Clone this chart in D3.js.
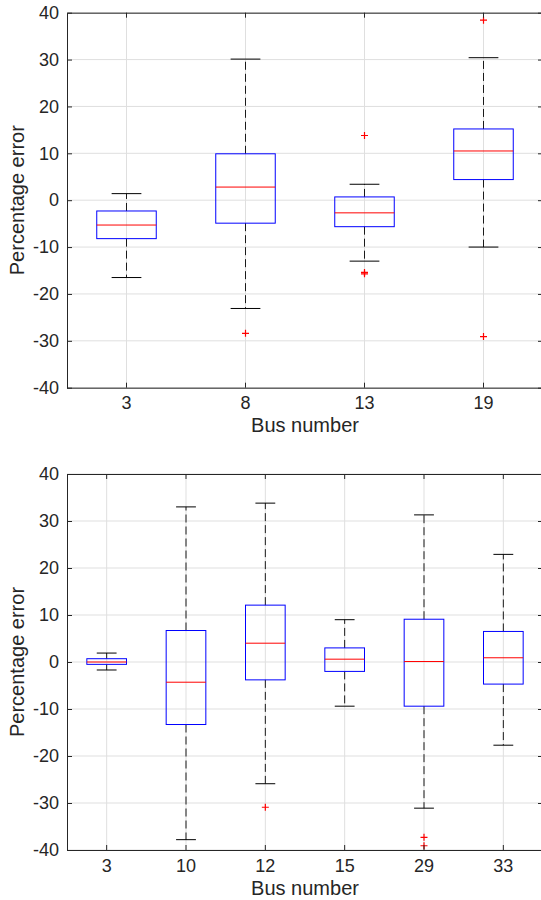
<!DOCTYPE html>
<html>
<head>
<meta charset="utf-8">
<script src="https://cdn.jsdelivr.net/npm/d3@7"></script>
<style>
  html, body { margin: 0; padding: 0; background: #ffffff; }
  svg { display: block; }
  text { font-family: "Liberation Sans", Arial, Helvetica, sans-serif; fill: #262626; }
</style>
</head>
<body>
<svg id="chart" width="541" height="900"></svg>
<script>
// ---------- Data (top panel) ----------
const busTop = ["3", "8", "13", "19"];
const loTop  = [-16.5, -23.1, -13.0, -10.0];
const q1Top  = [-8.2, -4.9, -5.65, 4.4];
const medTop = [-5.3, 2.8, -2.7, 10.5];
const q3Top  = [-2.3, 9.9, 0.7, 15.2];
const hiTop  = [1.4, 30.1, 3.4, 30.4];
const outTop = [[], [-28.4], [13.8, -15.4, -15.7], [38.4, -29.1]];

// ---------- Data (bottom panel) ----------
const busBot = ["3", "10", "12", "15", "29", "33"];
const loBot  = [-1.7, -37.8, -25.9, -9.4, -31.1, -17.7];
const q1Bot  = [-0.5, -13.3, -3.8, -2.0, -9.4, -4.7];
const medBot = [0.0, -4.3, 4.0, 0.6, 0.1, 0.9];
const q3Bot  = [0.7, 6.7, 12.1, 3.0, 9.1, 6.5];
const hiBot  = [1.9, 33.0, 33.8, 9.0, 31.3, 22.9];
const outBot = [[], [], [-30.9], [], [-37.3, -39.1], []];

// ---------- Axis labels / ticks ----------
const yTickValues = [-40, -30, -20, -10, 0, 10, 20, 30, 40];
const xLabel = "Bus number";
const yLabel = "Percentage error";

const svg = d3.select("#chart");
svg.append("rect").attr("width", 541).attr("height", 900).attr("fill", "#ffffff");

const AX = "#262626", GRID = "#dfdfdf";

function panel(cats, lo, q1, med, q3, hi, outs, top, bottom) {
  const left = 67, right = 543;
  const g = svg.append("g");
  const x = d3.scaleBand().domain(cats).range([left, right]).padding(0);
  const bw = x.bandwidth();
  const cx = c => x(c) + bw / 2;
  const y = d3.scaleLinear().domain([-40, 40]).range([bottom, top]);

  // grid
  g.append("g").selectAll("line").data(yTickValues).join("line")
    .attr("x1", left).attr("x2", right)
    .attr("y1", d => y(d)).attr("y2", d => y(d))
    .attr("stroke", GRID).attr("stroke-width", 1);
  g.append("g").selectAll("line").data(cats).join("line")
    .attr("x1", d => cx(d)).attr("x2", d => cx(d))
    .attr("y1", top).attr("y2", bottom)
    .attr("stroke", GRID).attr("stroke-width", 1);

  // boxes
  const data = cats.map((c, i) => ({c, lo: lo[i], q1: q1[i], med: med[i], q3: q3[i], hi: hi[i], outs: outs[i]}));
  const bg = g.append("g").selectAll("g").data(data).join("g");
  // whiskers
  bg.append("line").attr("x1", d => cx(d.c)).attr("x2", d => cx(d.c))
    .attr("y1", d => y(d.q3)).attr("y2", d => y(d.hi))
    .attr("stroke", "#1a1a1a").attr("stroke-width", 1).attr("stroke-dasharray", "8,4");
  bg.append("line").attr("x1", d => cx(d.c)).attr("x2", d => cx(d.c))
    .attr("y1", d => y(d.q1)).attr("y2", d => y(d.lo))
    .attr("stroke", "#1a1a1a").attr("stroke-width", 1).attr("stroke-dasharray", "8,4");
  // caps
  ["lo", "hi"].forEach(k => {
    bg.append("line").attr("x1", d => cx(d.c) - bw * 0.125).attr("x2", d => cx(d.c) + bw * 0.125)
      .attr("y1", d => y(d[k])).attr("y2", d => y(d[k]))
      .attr("stroke", "#000").attr("stroke-width", 1);
  });
  // box
  bg.append("rect").attr("x", d => cx(d.c) - bw * 0.25).attr("width", bw * 0.5)
    .attr("y", d => y(d.q3)).attr("height", d => y(d.q1) - y(d.q3))
    .attr("fill", "none").attr("stroke", "#0000ff").attr("stroke-width", 1);
  // median
  bg.append("line").attr("x1", d => cx(d.c) - bw * 0.25).attr("x2", d => cx(d.c) + bw * 0.25)
    .attr("y1", d => y(d.med)).attr("y2", d => y(d.med))
    .attr("stroke", "#ff0000").attr("stroke-width", 1);
  // outliers
  bg.each(function(d) {
    const s = d3.select(this);
    d.outs.forEach(v => {
      s.append("path")
        .attr("d", `M${cx(d.c) - 3.5},${y(v)}h7M${cx(d.c)},${y(v) - 3.5}v7`)
        .attr("stroke", "#ff0000").attr("stroke-width", 1.2).attr("fill", "none");
    });
  });

  // axes
  const styleAxis = a => {
    a.selectAll("path.domain").attr("stroke", AX).attr("stroke-width", 1);
    a.selectAll(".tick line").attr("stroke", AX).attr("stroke-width", 1);
    a.selectAll("text").attr("fill", AX).style("font-family", "'Liberation Sans', Arial, sans-serif").style("font-size", "18px");
  };
  const ax1 = g.append("g").attr("transform", `translate(0,${bottom})`)
    .call(d3.axisBottom(x).tickSizeInner(-5).tickSizeOuter(0).tickPadding(9));
  styleAxis(ax1);
  const ax2 = g.append("g").attr("transform", `translate(0,${top})`)
    .call(d3.axisTop(x).tickSizeInner(-5).tickSizeOuter(0).tickFormat(""));
  styleAxis(ax2);
  const ay1 = g.append("g").attr("transform", `translate(${left},0)`)
    .call(d3.axisLeft(y).tickValues(yTickValues).tickFormat(d => String(d)).tickSizeInner(-5).tickSizeOuter(0).tickPadding(8));
  styleAxis(ay1);
  const ay2 = g.append("g").attr("transform", `translate(${right},0)`)
    .call(d3.axisRight(y).tickValues(yTickValues).tickFormat("").tickSizeInner(-5).tickSizeOuter(0));
  styleAxis(ay2);
  ax1.selectAll("path.domain").attr("d", `M${left},0.5H${right}`);

  // labels
  g.append("text").attr("x", (left + right) / 2).attr("y", bottom + 44.5)
    .attr("text-anchor", "middle").style("font-size", "20px").text(xLabel);
  g.append("text").attr("transform", `translate(23.5,${(top + bottom) / 2}) rotate(-90)`)
    .attr("text-anchor", "middle").style("font-size", "20px").text(yLabel);
}

panel(busTop, loTop, q1Top, medTop, q3Top, hiTop, outTop, 12.7, 387.7);
panel(busBot, loBot, q1Bot, medBot, q3Bot, hiBot, outBot, 474, 850);
</script>
</body>
</html>
